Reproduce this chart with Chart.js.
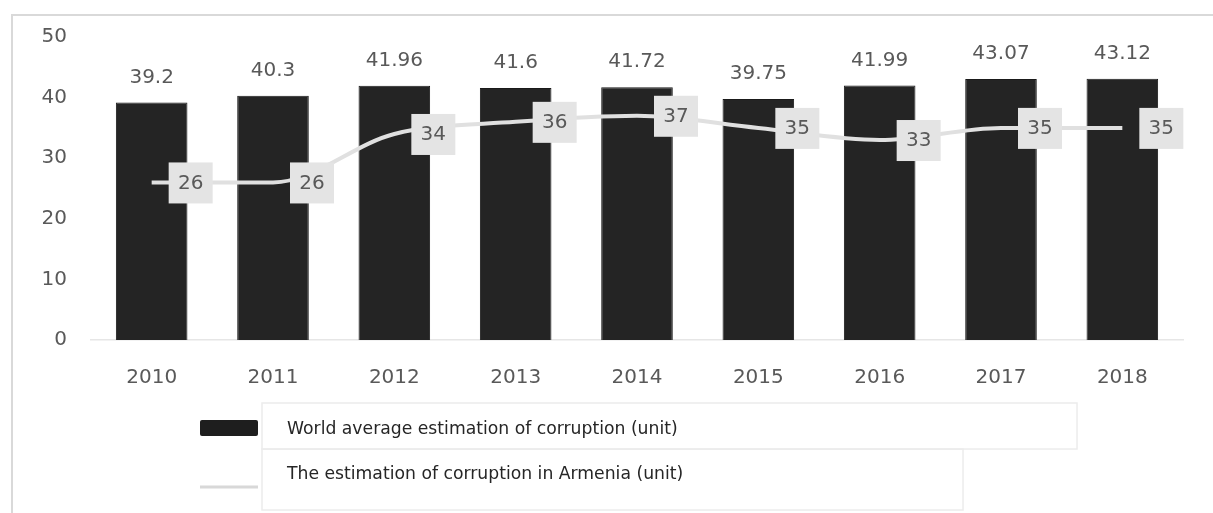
<!DOCTYPE html>
<html>
<head>
<meta charset="utf-8">
<script src="https://cdn.jsdelivr.net/npm/chart.js@4.4.1/dist/chart.umd.min.js"></script>
<style>
    html, body { margin: 0; padding: 0; background: #fff; }
    #wrap { width: 1213px; height: 513px; position: relative; }
</style>
</head>
<body>
<div id="wrap"><canvas id="grafico" width="1213" height="513"></canvas></div>
<script>
    'use strict';

    var anos = ['2010', '2011', '2012', '2013', '2014', '2015', '2016', '2017', '2018'];
    var mediaMundial = [39.2, 40.3, 41.96, 41.6, 41.72, 39.75, 41.99, 43.07, 43.12];
    var armenia = [26, 26, 34, 36, 37, 35, 33, 35, 35];
    var ticksY = [0, 10, 20, 30, 40, 50];
    var legendas = ['World average estimation of corruption (unit)', 'The estimation of corruption in Armenia (unit)'];

    var corTexto = '#595959';
    var fonteEixo = 'DejaVu Sans';

    // rotulos das barras, caixas da linha e legenda desenhada a mao
    var pluginRotulos = {
        id: 'rotulos',
        afterDatasetsDraw: function (chart) {
            var ctx = chart.ctx;
            ctx.save();
            ctx.font = '20px "' + fonteEixo + '"';
            ctx.textAlign = 'center';
            ctx.textBaseline = 'middle';

            var barras = chart.getDatasetMeta(1).data;
            barras.forEach(function (bar, i) {
                ctx.fillStyle = corTexto;
                ctx.fillText(String(mediaMundial[i]), bar.x, bar.y - 25);
            });

            var pontos = chart.getDatasetMeta(0).data;
            pontos.forEach(function (p, i) {
                ctx.fillStyle = '#e4e4e4';
                ctx.fillRect(p.x + 17, p.y - 20, 44, 41);
                ctx.fillStyle = corTexto;
                ctx.fillText(String(armenia[i]), p.x + 39, p.y + 1);
            });
            ctx.restore();
        },
        afterDraw: function (chart) {
            var ctx = chart.ctx;
            ctx.save();

            // moldura externa
            ctx.strokeStyle = '#d9d9d9';
            ctx.lineWidth = 2;
            ctx.beginPath();
            ctx.moveTo(12, 513);
            ctx.lineTo(12, 15);
            ctx.lineTo(1213, 15);
            ctx.stroke();

            // caixas da legenda
            ctx.strokeStyle = '#ececec';
            ctx.lineWidth = 1.5;
            ctx.strokeRect(262, 403, 815, 46);
            ctx.strokeRect(262, 449, 701, 61);

            // simbolos
            ctx.fillStyle = '#1e1e1e';
            ctx.beginPath();
            ctx.roundRect(200, 420, 58, 16, 2);
            ctx.fill();
            ctx.strokeStyle = '#d8d8d8';
            ctx.lineWidth = 3;
            ctx.beginPath();
            ctx.moveTo(200, 487);
            ctx.lineTo(258, 487);
            ctx.stroke();

            // textos
            ctx.fillStyle = '#262626';
            ctx.textAlign = 'left';
            ctx.textBaseline = 'middle';
            ctx.font = '13px "DejaVu Sans"';
            var w = ctx.measureText(legendas[0]).width;
            var tam = 13 * 391 / w;
            ctx.font = tam.toFixed(2) + 'px "DejaVu Sans"';
            ctx.fillText(legendas[0], 287, 430);
            ctx.fillText(legendas[1], 287, 475);
            ctx.restore();
        }
    };

    var $grafico = document.getElementById('grafico');

    var chart = new Chart($grafico, {
        data: {
            labels: anos,
            datasets: [{
                type: 'line',
                label: legendas[1],
                data: armenia,
                borderColor: '#e0e0e0',
                borderWidth: 4,
                cubicInterpolationMode: 'monotone',
                pointRadius: 0,
                order: 0
            }, {
                type: 'bar',
                label: legendas[0],
                data: mediaMundial,
                backgroundColor: '#242424',
                borderColor: '#1a1a1a',
                borderWidth: 1,
                categoryPercentage: 1,
                barPercentage: 0.59,
                order: 1
            }]
        },
        options: {
            responsive: false,
            animation: false,
            layout: {
                padding: { left: 0, right: 30, top: 37, bottom: 113 }
            },
            plugins: {
                legend: { display: false },
                tooltip: { enabled: false }
            },
            scales: {
                x: {
                    grid: { display: false, drawTicks: false },
                    border: { display: true, color: '#e6e6e6', width: 1.5 },
                    ticks: {
                        color: corTexto,
                        font: { family: fonteEixo, size: 20 },
                        padding: 26
                    },
                    afterFit: function (scale) { scale.height = 60; }
                },
                y: {
                    min: 0,
                    max: 50,
                    grid: { display: false, drawTicks: false },
                    border: { display: false },
                    afterBuildTicks: function (scale) {
                        scale.ticks = ticksY.map(function (v) { return { value: v }; });
                    },
                    ticks: {
                        color: corTexto,
                        font: { family: fonteEixo, size: 20 },
                        padding: 24
                    },
                    afterFit: function (scale) { scale.width = 91; }
                }
            }
        },
        plugins: [pluginRotulos]
    });
</script>
</body>
</html>
